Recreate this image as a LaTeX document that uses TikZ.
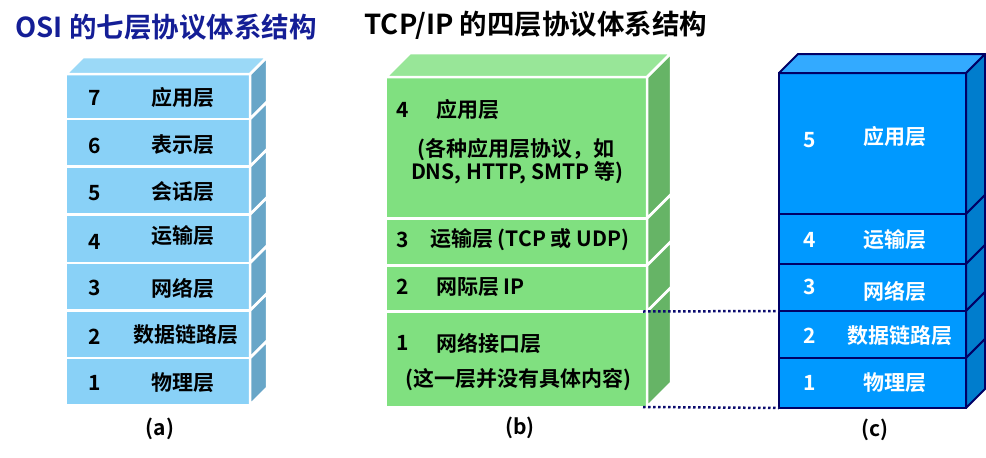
\documentclass[tikz,border=0pt]{standalone}
\usepackage{fontspec}
\setmainfont{Noto Sans CJK SC}[BoldFont=* Bold]
\definecolor{aFront}{RGB}{137,209,247}
\definecolor{aSide}{RGB}{104,166,200}
\definecolor{aTop}{RGB}{155,217,247}
\definecolor{bFront}{RGB}{128,224,128}
\definecolor{bSide}{RGB}{102,180,102}
\definecolor{bTop}{RGB}{152,230,152}
\definecolor{cFront}{RGB}{0,153,255}
\definecolor{cSide}{RGB}{0,125,205}
\definecolor{cTop}{RGB}{51,170,255}
\definecolor{cNavy}{RGB}{0,0,102}
\definecolor{titleBlue}{RGB}{20,30,150}
\definecolor{dotNavy}{RGB}{10,10,110}
\begin{document}
\begin{tikzpicture}[x=1pt,y=-1pt,
  box/.style={inner sep=0pt,outer sep=0pt,anchor=north west},
  layA/.style={box,fill=aFront,draw=white,line width=2.5pt,minimum width=184pt},
  layB/.style={box,fill=bFront,draw=white,line width=2.5pt,minimum width=261pt},
  layC/.style={box,fill=cFront,draw=cNavy,line width=2pt,minimum width=187pt},
  txt/.style={inner sep=0pt,font=\fontsize{21}{25}\selectfont\bfseries},
  txtw/.style={txt,text=white},
  ttl/.style={inner sep=0pt,font=\fontsize{27.5}{31}\selectfont\bfseries},
  dots/.style={draw=dotNavy,line width=2.5pt,dash pattern=on 2.5pt off 2.5pt}
]
\useasboundingbox (0,0) rectangle (986,458);

% ---------- titles
\node[ttl,text=titleBlue] (t1) at (166,27) {OSI 的七层协议体系结构};
\node[ttl] (t2) at (536,25) {TCP/IP 的四层协议体系结构};

% ---------- (a)
\foreach \n/\t/\b in {7/74/119,6/119/166.5,5/166.5/214.5,4/214.5/263,3/263/310.5,2/310.5/358,1/358/405}{
  \node[layA,minimum height=\b-\t] (a\n) at (66,\t) {};
  \fill[aSide,draw=white,line width=2.5pt] (a\n.north east) -- ++(17,-17)
     -- ([shift={(17,-17)}]a\n.south east) -- (a\n.south east) -- cycle;
}
\fill[aTop,draw=white,line width=2.5pt] (a7.north west) -- ++(17,-17)
   -- ([shift={(17,-17)}]a7.north east) -- (a7.north east) -- cycle;
\foreach \n/\t/\b in {7/74/119,6/119/166.5,5/166.5/214.5,4/214.5/263,3/263/310.5,2/310.5/358,1/358/405}{
  \draw[white,line width=2.5pt] (66,\t) rectangle (250,\b);
}
\node[txt] (an7) at (95,98) {7};  \node[txt] (al7) at (183,98) {应用层};
\node[txt] (an6) at (95,146) {6}; \node[txt] (al6) at (183,145) {表示层};
\node[txt] (an5) at (95,193) {5}; \node[txt] (al5) at (183,192) {会话层};
\node[txt] (an4) at (95,242) {4}; \node[txt] (al4) at (183,236) {运输层};
\node[txt] (an3) at (95,288) {3}; \node[txt] (al3) at (183,288) {网络层};
\node[txt] (an2) at (95,337) {2}; \node[txt] (al2) at (186,335) {数据链路层};
\node[txt] (an1) at (95,383) {1}; \node[txt] (al1) at (183,383) {物理层};
\node[txt] (capa) at (160,429) {(a)};

% ---------- (b)
\foreach \n/\t/\b in {4/77/218.5,3/218.5/265.5,2/265.5/311.5,1/311.5/407}{
  \node[layB,minimum height=\b-\t] (b\n) at (386,\t) {};
  \fill[bSide,draw=white,line width=2.5pt] (b\n.north east) -- ++(24,-24)
     -- ([shift={(24,-24)}]b\n.south east) -- (b\n.south east) -- cycle;
}
\fill[bTop,draw=white,line width=2.5pt] (b4.north west) -- ++(24,-24)
   -- ([shift={(24,-24)}]b4.north east) -- (b4.north east) -- cycle;
\foreach \n/\t/\b in {4/77/218.5,3/218.5/265.5,2/265.5/311.5,1/311.5/407}{
  \draw[white,line width=2.5pt] (386,\t) rectangle (647,\b);
}
\node[txt] (bn4) at (403,110) {4}; \node[txt,anchor=west] (bl4) at (436,110) {应用层};
\node[txt] (bl4a) at (516,150) {(各种应用层协议，如};
\node[txt] (bl4b) at (517,173) {DNS, HTTP, SMTP 等)};
\node[txt] (bn3) at (403,240) {3}; \node[txt,anchor=west] (bl3) at (430,240) {运输层 (TCP 或 UDP)};
\node[txt] (bn2) at (403,287) {2}; \node[txt,anchor=west] (bl2) at (436,287) {网际层 IP};
\node[txt] (bn1) at (403,343) {1}; \node[txt,anchor=west] (bl1) at (436,343) {网络接口层};
\node[txt] (bl1a) at (518,380) {(这一层并没有具体内容)};
\node[txt] (capb) at (520,428) {(b)};

% ---------- (c)
\foreach \n/\t/\b in {5/73/214,4/214/264,3/264/311,2/311/358,1/358/408}{
  \node[layC,minimum height=\b-\t] (c\n) at (779,\t) {};
  \filldraw[fill=cSide,draw=cNavy,line width=2pt,line join=round] (c\n.north east) -- ++(19,-19)
     -- ([shift={(19,-19)}]c\n.south east) -- (c\n.south east) -- cycle;
}
\filldraw[fill=cTop,draw=cNavy,line width=2pt,line join=round] (c5.north west) -- ++(19,-19)
   -- ([shift={(19,-19)}]c5.north east) -- (c5.north east) -- cycle;
\node[txtw] (cn5) at (810,140) {5}; \node[txtw] (cl5) at (895,137) {应用层};
\node[txtw] (cn4) at (810,240) {4}; \node[txtw] (cl4) at (895,240) {运输层};
\node[txtw] (cn3) at (810,287) {3}; \node[txtw] (cl3) at (895,291) {网络层};
\node[txtw] (cn2) at (810,336) {2}; \node[txtw] (cl2) at (900,336) {数据链路层};
\node[txtw] (cn1) at (810,383) {1}; \node[txtw] (cl1) at (895,383) {物理层};
\node[txt] (capc) at (875,430) {(c)};

% ---------- dotted correspondence lines
\draw[dots] ([xshift=-4pt]b1.north east) -- (c2.north west);
\draw[dots] ([xshift=-4pt]b1.south east) -- (c1.south west);
\end{tikzpicture}
\end{document}
